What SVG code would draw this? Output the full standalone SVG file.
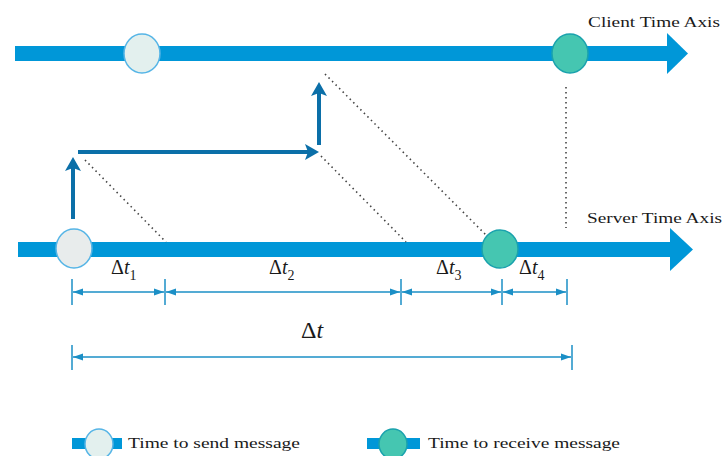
<svg xmlns="http://www.w3.org/2000/svg" width="723" height="456" viewBox="0 0 723 456">
<style>
.bar{fill:#0097d8}
.send{fill:#e3f0ee;stroke:#56b5e6;stroke-width:1.5}
.recv{fill:#45c6b1;stroke:#1aa2ad;stroke-width:1.5}
.lbl{font-family:"Liberation Serif","Times New Roman",serif;fill:#1a1a1a;font-size:15px}
.math{font-family:"Liberation Serif","Times New Roman",serif;fill:#1a1a1a}
.dot{stroke:#444;stroke-width:1.6;stroke-dasharray:1.5 3.5;fill:none}
.flow{stroke:#0b6fa8;stroke-width:4;fill:none;marker-end:url(#ah)}
.dim{stroke:#1b8fc6;stroke-width:1.5;fill:none;marker-start:url(#dh);marker-end:url(#dh)}
.tick{stroke:#1b8fc6;stroke-width:1.5}
</style>
<defs>
<marker id="ah" markerUnits="userSpaceOnUse" markerWidth="16" markerHeight="16" refX="8" refY="8" orient="auto">
<path d="M0,0 L14,8 L0,16 L3,8 z" fill="#0b6fa8"/>
</marker>
<marker id="dh" markerUnits="userSpaceOnUse" markerWidth="10" markerHeight="8" refX="10" refY="4" orient="auto-start-reverse">
<path d="M0,0.5 L10,4 L0,7.5 z" fill="#1b8fc6"/>
</marker>
</defs>

<g id="client-axis">
<rect class="bar" x="15" y="46" width="653" height="15"/>
<polygon class="bar" points="667,33 688,53.5 667,74"/>
<text class="lbl" x="588" y="27" textLength="132" lengthAdjust="spacingAndGlyphs">Client Time Axis</text>
</g>
<g id="server-axis">
<rect class="bar" x="18" y="242" width="654" height="15"/>
<polygon class="bar" points="670,228 693,249.5 670,271"/>
<text class="lbl" x="587" y="223" textLength="135" lengthAdjust="spacingAndGlyphs">Server Time Axis</text>
</g>

<g id="connectors">
<line class="dot" x1="566" y1="87" x2="566" y2="228"/>
<line class="dot" x1="85" y1="160" x2="166" y2="242"/>
<line class="dot" x1="321" y1="156" x2="406" y2="242"/>
<line class="dot" x1="325" y1="74" x2="489" y2="238"/>
<line class="flow" x1="73" y1="219" x2="73" y2="163"/>
<line class="flow" x1="78" y1="152" x2="313" y2="152"/>
<line class="flow" x1="319" y1="145" x2="319" y2="88"/>
</g>

<g id="client-send"><ellipse class="send" cx="142" cy="53.5" rx="18" ry="19.5"/></g>
<g id="client-recv"><ellipse class="recv" cx="570" cy="53.5" rx="18" ry="19.5"/></g>
<g id="server-send"><ellipse class="send" cx="74" cy="248.5" rx="18" ry="19.5" style="fill:#e8ecec"/></g>
<g id="server-recv"><ellipse class="recv" cx="500" cy="249" rx="18" ry="19"/></g>

<g id="dimensions">
<line class="tick" x1="72" y1="279" x2="72" y2="305"/>
<line class="tick" x1="165" y1="279" x2="165" y2="305"/>
<line class="tick" x1="401" y1="279" x2="401" y2="305"/>
<line class="tick" x1="502" y1="279" x2="502" y2="305"/>
<line class="tick" x1="567" y1="279" x2="567" y2="305"/>
<line class="dim" x1="73" y1="292" x2="164" y2="292"/>
<line class="dim" x1="166" y1="292" x2="400" y2="292"/>
<line class="dim" x1="402" y1="292" x2="501" y2="292"/>
<line class="dim" x1="503" y1="292" x2="566" y2="292"/>
<line class="tick" x1="72" y1="345" x2="72" y2="370"/>
<line class="tick" x1="572" y1="345" x2="572" y2="370"/>
<line class="dim" x1="73" y1="357" x2="571" y2="357"/>
<text class="math" x="111" y="274" font-size="20">Δ<tspan font-style="italic">t</tspan><tspan font-size="14" dy="6">1</tspan></text>
<text class="math" x="269" y="274" font-size="20">Δ<tspan font-style="italic">t</tspan><tspan font-size="14" dy="6">2</tspan></text>
<text class="math" x="436" y="274" font-size="20">Δ<tspan font-style="italic">t</tspan><tspan font-size="14" dy="6">3</tspan></text>
<text class="math" x="519" y="274" font-size="20">Δ<tspan font-style="italic">t</tspan><tspan font-size="14" dy="6">4</tspan></text>
<text class="math" x="301" y="338" font-size="24">Δ<tspan font-style="italic">t</tspan></text>
</g>

<g id="legend-send">
<rect class="bar" x="72" y="438" width="50" height="11"/>
<ellipse class="send" cx="99" cy="444" rx="14" ry="15"/>
<text class="lbl" x="128" y="448" textLength="172" lengthAdjust="spacingAndGlyphs">Time to send message</text>
</g>
<g id="legend-recv">
<rect class="bar" x="367" y="438" width="53" height="11"/>
<ellipse class="recv" cx="393" cy="444" rx="14" ry="15"/>
<text class="lbl" x="428" y="448" textLength="192" lengthAdjust="spacingAndGlyphs">Time to receive message</text>
</g>
</svg>
